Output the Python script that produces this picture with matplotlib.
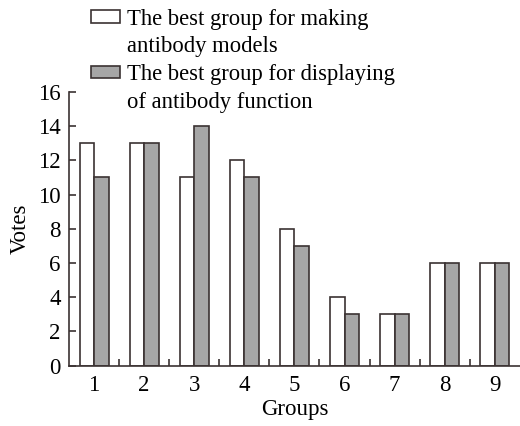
import matplotlib
matplotlib.use("Agg")
import matplotlib.pyplot as plt
from matplotlib.patches import Patch
import numpy as np

# data
groups = ["1", "2", "3", "4", "5", "6", "7", "8", "9"]
models_votes = [13, 13, 11, 12, 8, 4, 3, 6, 6]
function_votes = [11, 13, 14, 11, 7, 3, 3, 6, 6]
series_labels = [["The best group for making", "antibody models"],
                 ["The best group for displaying", "of antibody function"]]

plt.rcParams['font.family'] = ['Liberation Serif', 'DejaVu Serif']
edge = '#3b3232'

fig = plt.figure(figsize=(5.2, 4.26), dpi=100)
ax = fig.add_axes([0.1327, 0.142, 0.867, 0.642])

x = np.arange(1, len(groups) + 1)
w = 0.29
b1 = ax.bar(x - w/2, models_votes, w, color='white', edgecolor=edge, linewidth=1.2)
b2 = ax.bar(x + w/2, function_votes, w, color='#a6a6a6', edgecolor=edge, linewidth=1.2)

ax.set_xlim(0.5, 9.5)
ax.set_ylim(0, 16)
ax.set_yticks(range(0, 17, 2))
ax.set_xticks(x)
ax.set_xticklabels(groups)
ax.set_xticks(np.arange(1.5, 9, 1), minor=True)
ax.tick_params(axis='x', which='major', length=0, labelsize=16.5, pad=7)
ax.tick_params(axis='x', which='minor', direction='in', length=5, width=1.2, color=edge)
ax.tick_params(axis='y', direction='in', length=5, width=1.2, color=edge, labelsize=16.5, pad=6)

for s in ['top', 'right']:
    ax.spines[s].set_visible(False)
for s in ['left', 'bottom']:
    ax.spines[s].set_color(edge)
    ax.spines[s].set_linewidth(1.2)

ax.set_xlabel("Groups", fontsize=16.5, labelpad=2)
ax.set_ylabel("Votes", fontsize=16.5, labelpad=5)

# legend: handle sits on the first line of each two-line label
blank = Patch(facecolor='none', edgecolor='none')
handles = [b1, blank, b2, blank]
labels = [series_labels[0][0], series_labels[0][1], series_labels[1][0], series_labels[1][1]]
leg = fig.legend(handles, labels, loc='upper left', bbox_to_anchor=(0.149, 1.011),
                 frameon=False, fontsize=16.3, handlelength=1.3, handleheight=0.5,
                 handletextpad=0.3, labelspacing=0.29, borderpad=0.1)

fig.savefig("out.png", dpi=100)
